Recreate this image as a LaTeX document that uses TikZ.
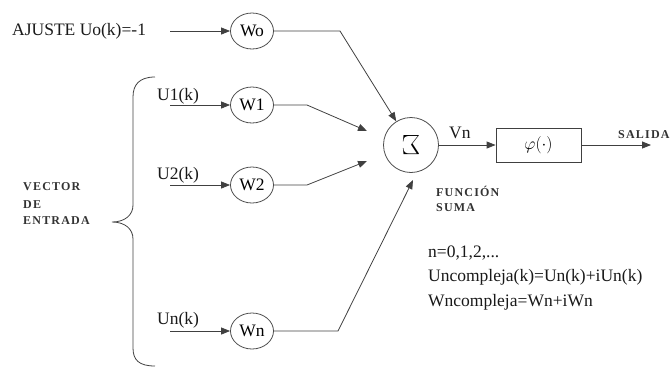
\documentclass[tikz,border=0pt]{standalone}
\usepackage{fontspec}
\usepackage{graphicx}
\setmainfont{LiberationSerif}[Extension=.ttf,UprightFont=*-Regular,BoldFont=*-Bold,ItalicFont=*-Italic,BoldItalicFont=*-BoldItalic]
\newfontfamily\spacedbf{LiberationSerif}[Extension=.ttf,UprightFont=*-Bold,LetterSpace=10]
\usetikzlibrary{arrows.meta,shapes.geometric}
\begin{document}
\begin{tikzpicture}[x=1pt,y=-1pt,
  line/.style={draw=black!75,line width=0.8pt},
  arr/.style={line,-{Triangle[length=9pt,width=7pt]}},
  wnode/.style={ellipse,draw=black!70,line width=0.8pt,minimum width=43pt,minimum height=36pt,inner sep=0pt,font=\fontsize{17.5}{20}\selectfont},
  txt/.style={anchor=west,inner sep=0pt,font=\fontsize{17.5}{20}\selectfont,text=black!90},
  small/.style={anchor=west,inner sep=0pt,font=\fontsize{12}{14}\spacedbf,text=black!80}]
\useasboundingbox (0,0) rectangle (672,368);

% weight nodes
\node[wnode] (Wo) at (252,31) {Wo};
\node[wnode] (W1) at (252,105) {W1};
\node[wnode] (W2) at (252,185) {W2};
\node[wnode] (Wn) at (252,331) {Wn};

% summation and activation
\node[circle,draw=black!70,line width=0.8pt,minimum size=55pt,inner sep=0pt] (M) at (411,145)
  {\rotatebox{180}{\scalebox{1.35}{\fontsize{20}{20}\selectfont$\Sigma$}}};
\node[draw=black!75,line width=0.8pt,minimum width=85pt,minimum height=34pt,inner sep=0pt,
  font=\fontsize{17.5}{20}\selectfont] (phi) at (538.5,145) {$\varphi(\cdot)$};

% input coordinates
\coordinate (u0) at (170,31);
\coordinate (u1) at (170,105);
\coordinate (u2) at (170,185);
\coordinate (un) at (170,331);
\coordinate (c0) at (340,31);
\coordinate (c1) at (307,105);
\coordinate (c2) at (307,185);
\coordinate (cn) at (338,331);
\coordinate (t1) at (367,131);
\coordinate (t2) at (367,161);
\coordinate (tn) at (413,180);
\coordinate (out) at (651,145);

% labels
\node[txt] (ajuste) at (12,31) {AJUSTE Uo(k)=-1};
\node[txt] (lu1) at (157,96) {U1(k)};
\node[txt] (lu2) at (157,175) {U2(k)};
\node[txt] (lun) at (157,320) {Un(k)};
\node[txt] (vn) at (449,133) {Vn};
\node[small] (salida) at (618,135) {SALIDA};
\node[small] (v1) at (23,187) {VECTOR};
\node[small] (v2) at (23,205) {DE};
\node[small] (v3) at (23,221) {ENTRADA};
\node[small] (f1) at (436,191) {FUNCIÓN};
\node[small] (f2) at (436,208) {SUMA};
\node[txt] (e1) at (428,253) {n=0,1,2,...};
\node[txt] (e2) at (428,277) {Uncompleja(k)=Un(k)+iUn(k)};
\node[txt] (e3) at (428,302) {Wncompleja=Wn+iWn};

% connectors
\draw[arr] (u0) -- (Wo);
\draw[arr] (u1) -- (W1);
\draw[arr] (u2) -- (W2);
\draw[arr] (un) -- (Wn);
\draw[arr] (Wo) -- (c0) -- (M);
\draw[arr] (W1) -- (c1) -- (t1);
\draw[arr] (W2) -- (c2) -- (t2);
\draw[arr] (Wn) -- (cn) -- (tn);
\draw[arr] (M) -- (phi);
\draw[arr] (phi) -- (out);

% brace
\draw[line] (155,77) .. controls (139,77) and (133,85) .. (133,97) -- (133,205)
  .. controls (133,215) and (125,222) .. (112,222)
  .. controls (125,222) and (133,229) .. (133,239) -- (133,348)
  .. controls (133,360) and (139,366) .. (155,366);
\end{tikzpicture}
\end{document}
